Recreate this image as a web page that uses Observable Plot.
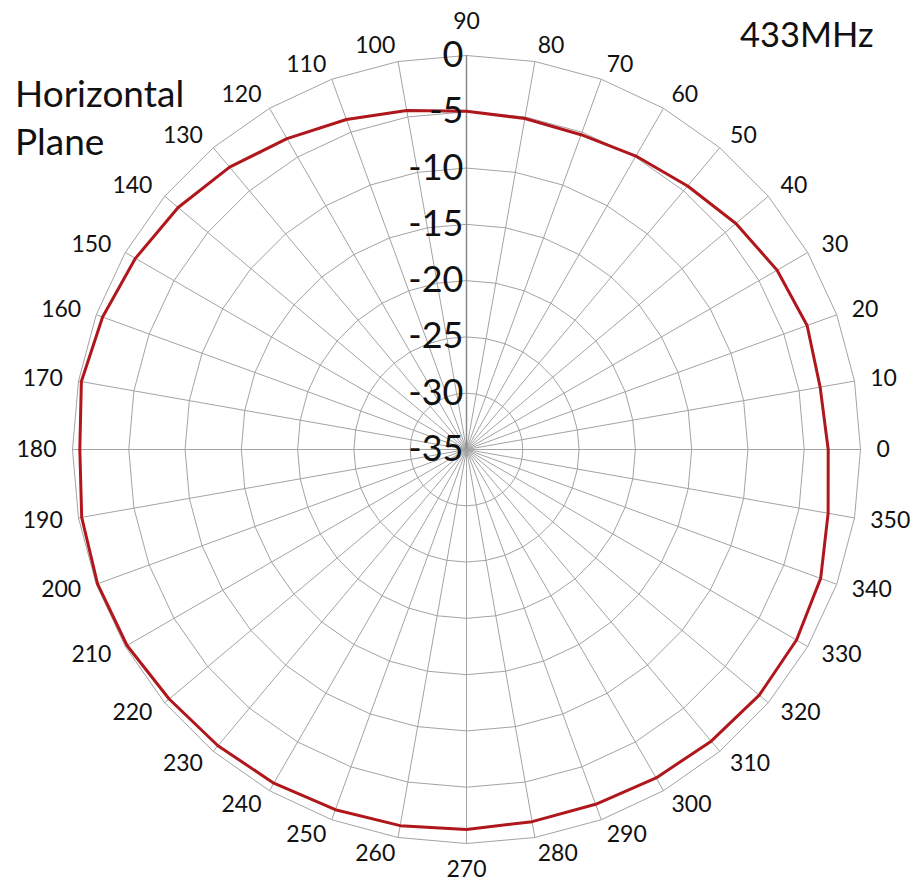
<!DOCTYPE html>
<html>
<head>
<meta charset="utf-8">
<script src="https://cdn.jsdelivr.net/npm/d3@7"></script>
<script src="https://cdn.jsdelivr.net/npm/@observablehq/plot@0.6"></script>
<style>
  body { margin: 0; background: #fff; }
  #wrap { position: relative; width: 915px; height: 885px; }
  .ann { position: absolute; font-family: Lato, "Open Sans", sans-serif; line-height: 34px; color: #111; white-space: nowrap; }
</style>
</head>
<body>
<div id="wrap">
  <div class="ann" style="left:15px; top:76px; font-size:37px;">Horizontal</div>
  <div class="ann" style="left:15px; top:124px; font-size:37px;">Plane</div>
  <div class="ann" style="left:740px; top:17px; font-size:34.5px;">433MHz</div>
</div>
<script>
// Categories: azimuth angles (degrees)
const angles = [0,10,20,30,40,50,60,70,80,90,100,110,120,130,140,150,160,170,
                180,190,200,210,220,230,240,250,260,270,280,290,300,310,320,330,340,350];
// Series: gain (dB) at each angle
const gain = [-2.87,-3.10,-2.80,-3.14,-3.76,-4.44,-4.90,-5.24,-5.14,-4.95,
              -4.42,-3.80,-3.11,-2.26,-1.56,-1.04,-0.60,-0.26,-0.65,-0.29,
              -0.12,-0.18,-0.52,-0.65,-0.77,-0.95,-1.07,-1.24,-1.43,-1.46,
              -1.31,-1.18,-1.05,-1.15,-1.52,-2.38];
// Radial axis levels and tick labels
const levels = [-35,-30,-25,-20,-15,-10,-5,0];
const levelLabels = ["-35","-30","-25","-20","-15","-10","-5","0"];
const angleLabels = ["0","10","20","30","40","50","60","70","80","90","100","110","120","130","140","150","160","170",
                     "180","190","200","210","220","230","240","250","260","270","280","290","300","310","320","330","340","350"];

const rMin = -35, rMax = 0, span = rMax - rMin;
const rad = a => a * Math.PI / 180;
const polar = (v, a) => ({ x: (v - rMin) * Math.cos(rad(a)), y: (v - rMin) * Math.sin(rad(a)) });

const closedAngles = [...angles, angles[0]];
const ringPts = levels.flatMap(l => closedAngles.map(a => ({ level: l, ...polar(l, a) })));
const spokes = angles.map(a => ({ a, ...polar(rMax, a) }));
const dataPts = closedAngles.map((a, i) => ({ a, ...polar(gain[i % gain.length], a) }));

const R = 394; // outer radius in px
const pxToData = span / R;
const labelPts = angles.map((a, i) => {
  const c = Math.cos(rad(a)), s = Math.sin(rad(a));
  const side = c > 1e-6 ? "right" : c < -1e-6 ? "left" : "vertical";
  const rpx = side === "vertical" ? 424 + 4 * s : 410;
  const rr = rpx * pxToData;
  return { t: angleLabels[i], side, x: rr * c, y: rr * s };
});
const tickPts = levels.map((l, i) => ({ t: levelLabels[i], y: l - rMin }));

const font = "Lato, 'Open Sans', sans-serif";
const labelOpts = { x: "x", y: "y", text: "t", lineAnchor: "middle", fontSize: 23, fontFamily: font, fill: "#111" };

const cx = 466, cy = 449, W = 915, H = 885;
const chart = Plot.plot({
  width: W,
  height: H,
  marginLeft: cx - R,
  marginRight: W - (cx + R),
  marginTop: cy - R,
  marginBottom: H - (cy + R),
  x: { domain: [-span, span], axis: null },
  y: { domain: [-span, span], axis: null },
  style: { background: "#fff" },
  marks: [
    Plot.line(ringPts, { x: "x", y: "y", z: "level", stroke: "#a3a3a3", strokeWidth: 1 }),
    Plot.link(spokes, { x1: 0, y1: 0, x2: "x", y2: "y", stroke: "#a3a3a3", strokeWidth: 1 }),
    Plot.ruleX([0], { y1: 0, y2: span, stroke: "#8a8a8a", strokeWidth: 1.5 }),
    Plot.line(dataPts, { x: "x", y: "y", stroke: "#b0171c", strokeWidth: 3, strokeLinejoin: "round" }),
    Plot.text(tickPts, { x: 0, y: "y", text: "t", textAnchor: "end", dx: -3, fontSize: 36,
      fontFamily: font, fill: "#111" }),
    Plot.text(labelPts.filter(d => d.side === "right"), { ...labelOpts, textAnchor: "start" }),
    Plot.text(labelPts.filter(d => d.side === "left"), { ...labelOpts, textAnchor: "end" }),
    Plot.text(labelPts.filter(d => d.side === "vertical"), { ...labelOpts, textAnchor: "middle" })
  ]
});
document.getElementById("wrap").prepend(chart);
</script>
</body>
</html>
